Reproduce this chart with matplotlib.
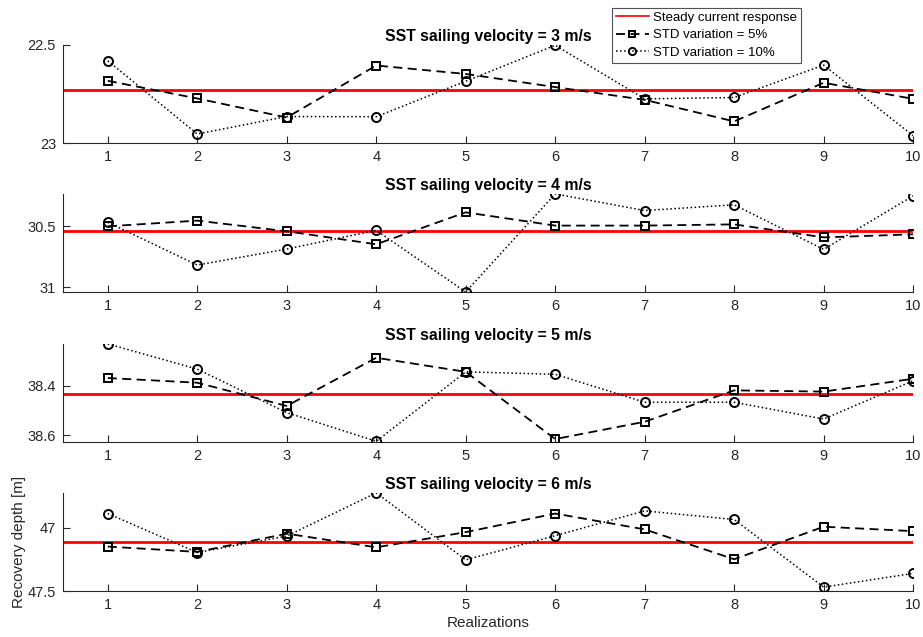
import matplotlib
matplotlib.use("Agg")
import matplotlib.pyplot as plt
import numpy as np

# ── Data (recovery depth [m]) ────────────────────────────────────────────────

realizations = np.arange(1, 11)

velocities = [3, 4, 5, 6]

steady = [22.729, 30.535, 38.432, 47.110]

std5_v3 = [22.683, 22.773, 22.870, 22.605, 22.648, 22.715, 22.780, 22.890, 22.693, 22.775]
std10_v3 = [22.581, 22.954, 22.865, 22.866, 22.685, 22.502, 22.775, 22.768, 22.603, 22.963]

std5_v4 = [30.500, 30.453, 30.541, 30.648, 30.385, 30.494, 30.494, 30.484, 30.591, 30.566]
std10_v4 = [30.467, 30.819, 30.687, 30.533, 31.041, 30.233, 30.370, 30.323, 30.690, 30.249]

std5_v5 = [38.369, 38.388, 38.482, 38.287, 38.344, 38.616, 38.546, 38.419, 38.424, 38.372]
std10_v5 = [38.231, 38.333, 38.509, 38.625, 38.344, 38.354, 38.467, 38.467, 38.535, 38.380]

std5_v6 = [47.149, 47.191, 47.047, 47.155, 47.035, 46.888, 47.013, 47.249, 46.992, 47.027]
std10_v6 = [46.888, 47.196, 47.066, 46.725, 47.254, 47.063, 46.867, 46.935, 47.469, 47.361]

std5 = [std5_v3, std5_v4, std5_v5, std5_v6]
std10 = [std10_v3, std10_v4, std10_v5, std10_v6]

y_ticks = [[22.5, 23], [30.5, 31], [38.4, 38.6], [47, 47.5]]
y_tick_labels = [["22.5", "23"], ["30.5", "31"], ["38.4", "38.6"], ["47", "47.5"]]
y_limits = [(22.5, 23.0), (30.233, 31.041), (38.231, 38.628), (46.725, 47.5)]

# ── Figure ───────────────────────────────────────────────────────────────────

plt.rcParams["font.family"] = ["Liberation Sans", "DejaVu Sans"]
GREY = "#262626"

fig = plt.figure(figsize=(9.23, 6.37), dpi=100)

left, width, height = 0.0683, 0.921, 0.154
bottoms = [0.7755, 0.5416, 0.3061, 0.0722]

axes = []
for i, v in enumerate(velocities):
    ax = fig.add_axes([left, bottoms[i], width, height])
    axes.append(ax)

    h_red = ax.axhline(steady[i], color="red", lw=2.0, zorder=1)
    h5, = ax.plot(realizations, std5[i], ls="--", color="black", lw=1.3,
                  marker="s", ms=5.5, mfc="none", mec="black", mew=1.4,
                  dashes=(5, 3), zorder=3)
    h10, = ax.plot(realizations, std10[i], ls=":", color="black", lw=1.1,
                   marker="o", ms=6.5, mfc="none", mec="black", mew=1.4, zorder=3)

    ax.set_xlim(0.5, 10)
    ax.set_ylim(*y_limits[i])
    ax.invert_yaxis()
    ax.set_xticks(realizations)
    ax.set_yticks(y_ticks[i])
    ax.set_yticklabels(y_tick_labels[i])

    for side in ("top", "right"):
        ax.spines[side].set_visible(False)
    for side in ("left", "bottom"):
        ax.spines[side].set_color(GREY)
        ax.spines[side].set_linewidth(0.8)
    ax.tick_params(direction="in", length=5, width=0.8, colors=GREY,
                   labelsize=10.5, pad=5)

    ax.set_title(f"SST sailing velocity = {v} m/s", fontsize=11.3,
                 fontweight="bold", pad=3)

axes[-1].set_xlabel("Realizations", fontsize=11, color=GREY, labelpad=3)
axes[-1].set_ylabel("Recovery depth [m]", fontsize=11, color=GREY, labelpad=1)

leg = fig.legend([h_red, h5, h10],
                 ["Steady current response", "STD variation = 5%", "STD variation = 10%"],
                 loc="upper left", bbox_to_anchor=(0.663, 0.988),
                 borderaxespad=0, fontsize=9.5, frameon=True, fancybox=False,
                 handlelength=2.5, handletextpad=0.3, borderpad=0.3,
                 labelspacing=0.4, markerscale=0.8)
leg.get_frame().set_edgecolor(GREY)
leg.get_frame().set_linewidth(0.8)
leg.legend_handles[0].set_linewidth(1.2)

fig.savefig("out.png", dpi=100)
